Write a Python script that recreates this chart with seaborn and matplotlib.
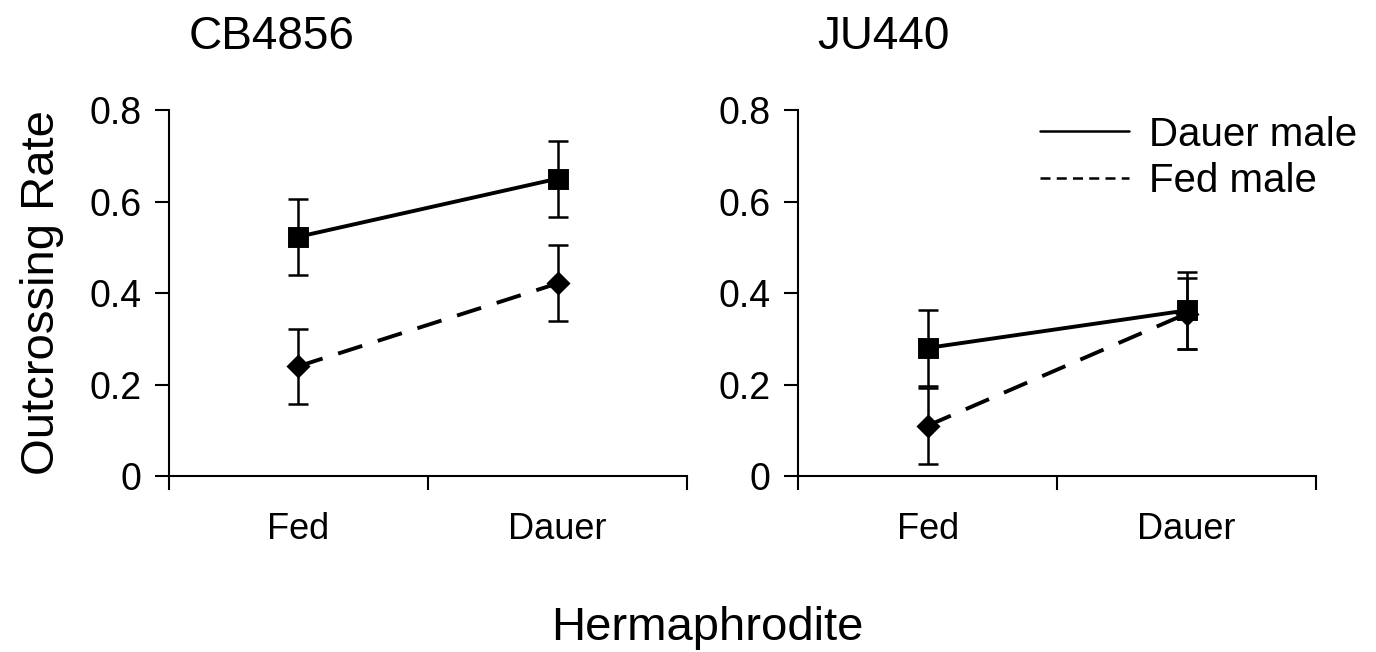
import matplotlib
matplotlib.use("Agg")
import matplotlib.pyplot as plt
from matplotlib.lines import Line2D
import numpy as np
import pandas as pd
import seaborn as sns

# data
hermaphrodite = ["Fed", "Dauer"]
strains = ["CB4856", "JU440"]
males = ["Dauer male", "Fed male"]

cb_dauer_male = [0.523, 0.650]
cb_dauer_male_err = [0.083, 0.083]
cb_fed_male = [0.240, 0.421]
cb_fed_male_err = [0.082, 0.083]

ju_dauer_male = [0.280, 0.362]
ju_dauer_male_err = [0.083, 0.085]
ju_fed_male = [0.110, 0.355]
ju_fed_male_err = [0.083, 0.078]

values = {
    "CB4856": {"Dauer male": (cb_dauer_male, cb_dauer_male_err),
               "Fed male": (cb_fed_male, cb_fed_male_err)},
    "JU440": {"Dauer male": (ju_dauer_male, ju_dauer_male_err),
              "Fed male": (ju_fed_male, ju_fed_male_err)},
}

sns.set_style("ticks")
plt.rcParams["font.family"] = ["Liberation Sans", "DejaVu Sans"]
plt.rcParams.update({"text.color": "black", "axes.labelcolor": "black",
                     "xtick.color": "black", "ytick.color": "black",
                     "axes.edgecolor": "black"})

fig = plt.figure(figsize=(13.76, 6.52), dpi=100)
ax1 = fig.add_axes([0.1228, 0.2699, 0.3765, 0.5613])
ax2 = fig.add_axes([0.5800, 0.2699, 0.3765, 0.5613])

styles = {
    "Dauer male": dict(marker="s", markersize=13, ls="-"),
    "Fed male": dict(marker="D", markersize=10, ls=(0, (6.5, 4.2))),
}

for ax, strain in zip([ax1, ax2], strains):
    for male in males:
        means, errs = values[strain][male]
        df = pd.DataFrame({"Hermaphrodite": hermaphrodite, "rate": means})
        st = styles[male]
        ax.errorbar(np.arange(len(hermaphrodite)), means, yerr=errs, fmt="none",
                    ecolor="black", elinewidth=1.8, capsize=7, capthick=1.8, zorder=2)
        n_before = len(ax.lines)
        sns.pointplot(data=df, x="Hermaphrodite", y="rate", order=hermaphrodite,
                      color="black", markers=st["marker"], linestyles="-",
                      errorbar=None, ax=ax, markersize=st["markersize"],
                      linewidth=2.8)
        for line in ax.lines[n_before:]:
            line.set_linestyle(st["ls"])

    ax.set_xlim(-0.5, 1.5)
    ax.set_ylim(0, 0.8)
    ax.set_yticks([0, 0.2, 0.4, 0.6, 0.8])
    ax.set_yticklabels(["0", "0.2", "0.4", "0.6", "0.8"])
    ax.set_xticks([-0.5, 0.5, 1.5])
    ax.set_xticklabels([])
    ax.set_xticks([0, 1], minor=True)
    ax.set_xticklabels(hermaphrodite, minor=True)
    ax.tick_params(axis="x", which="minor", length=0, labelsize=26, pad=26)
    ax.tick_params(axis="x", which="major", length=10, width=1.5, direction="out")
    ax.tick_params(axis="y", length=10, width=1.5, direction="out", labelsize=27, pad=10)
    ax.set_xlabel("")
    ax.set_ylabel("")
    sns.despine(ax=ax)
    for sp in ["left", "bottom"]:
        ax.spines[sp].set_linewidth(1.5)
    ax.text(0.037, 1.14, strain, transform=ax.transAxes, fontsize=33,
            ha="left", va="bottom")

ax1.set_ylabel("Outcrossing Rate", fontsize=34, labelpad=18)

handles = [Line2D([], [], color="black", lw=1.8, ls="-"),
           Line2D([], [], color="black", lw=1.8, ls=(0, (4, 2.5)))]
ax2.legend(handles, males, loc="upper left", bbox_to_anchor=(0.467, 0.985),
           fontsize=29, frameon=False, handlelength=2.2, handletextpad=0.5,
           labelspacing=0.22, borderpad=0, borderaxespad=0)

fig.text(0.514, 0.018, "Hermaphrodite", fontsize=34, ha="center", va="baseline")

fig.savefig("out.png", dpi=100)
